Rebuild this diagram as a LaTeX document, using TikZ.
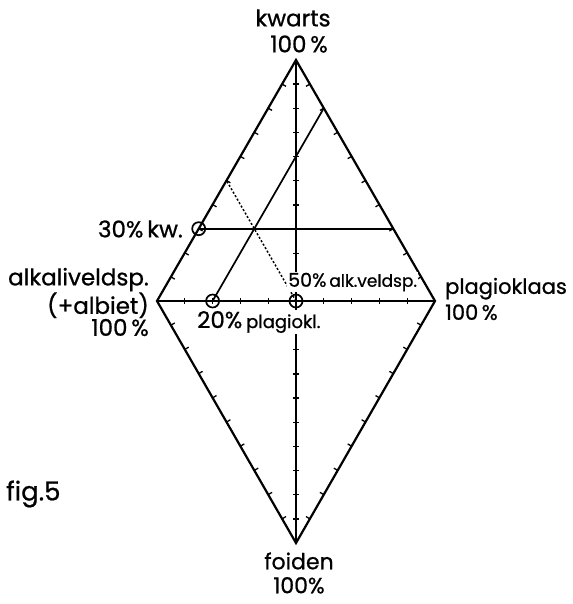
\documentclass[tikz,border=0pt]{standalone}
\usepackage{fontspec}
\setmainfont{Poppins}[FakeBold=0.8]
\usetikzlibrary{calc}

\begin{document}
\begin{tikzpicture}[
  x=1pt, y=-1pt,
  edge/.style={line width=2.2pt, line join=miter},
  axis/.style={line width=2pt},
  tick/.style={line width=1.3pt},
  aux/.style={line width=1.7pt},
  auxdot/.style={line width=1.5pt, dash pattern=on 2pt off 2pt},
  ring/.style={circle, draw, line width=1.7pt, minimum size=13pt, inner sep=0pt},
  lbl/.style={font=\fontsize{23}{26}\selectfont, inner sep=1pt},
  smalllbl/.style={font=\fontsize{17}{20}\selectfont, inner sep=1pt, fill=white},
]
\useasboundingbox (0,0) rectangle (572,604);

% --- corners of the double triangle ---
\coordinate (Q) at (296,60);   % kwarts
\coordinate (A) at (157,301);  % alkaliveldspaat
\coordinate (P) at (435,301);  % plagioklaas
\coordinate (F) at (296,543);  % foiden
\coordinate (O) at (296,301);

% --- construction points ---
\coordinate (k30) at ($(A)!0.3!(Q)$);
\coordinate (k30r) at ($(P)!0.3!(Q)$);
\coordinate (p20) at ($(A)!0.2!(P)$);
\coordinate (p20top) at ($(Q)!0.2!(P)$);
\coordinate (a50top) at ($(Q)!0.5!(A)$);

% outline and axes
\draw[edge] (Q) -- (A) -- (F) -- (P) -- cycle;
\draw[axis] (Q) -- (F);
\draw[axis] (A) -- (P);

% scale ticks, 10 % apart
\foreach \a/\b in {Q/A, A/F, F/P, P/Q} {
  \foreach \i in {1,...,9}
    \draw[tick] ($(\a)!\i/10!(\b)$) -- ($(\a)!\i/10!(\b)!4.5pt!90:(\b)$);
}
\foreach \i in {1,...,19}
  \draw[tick] ($(Q)!\i/20!(F)!3pt!90:(F)$) -- ($(Q)!\i/20!(F)!3pt!-90:(F)$);
\foreach \i in {1,...,9}
  \draw[tick] ($(A)!\i/10!(P)!3pt!90:(P)$) -- ($(A)!\i/10!(P)!3pt!-90:(P)$);

% example: 30 % kw., 20 % plagiokl., 50 % alk.veldsp.
\draw[aux] (k30) -- (k30r);
\draw[aux] (p20) -- (p20top);
\draw[auxdot] (O) -- (a50top);

\node[ring] (m30) at (k30) {};
\node[ring] (m20) at (p20) {};
\node[ring] (m50) at (O) {};
\draw[tick] (m50.north) -- (m50.south);

% --- labels ---
\node[lbl, align=center] (lq) at (293,31) {kwarts\\\hspace*{12pt}100\,\%};
\node[lbl, font=\fontsize{23}{22}\selectfont, align=right, anchor=east] (la) at (150,302) {alkaliveldsp.\\(+albiet)\\100\,\%};
\node[lbl, font=\fontsize{21}{26}\selectfont, align=left, anchor=west] (lp) at (444,299) {plagioklaas\\100\,\%};
\node[lbl, font=\fontsize{22}{24}\selectfont, align=center] (lf) at (299,573) {foiden\\100\%};
\node[lbl, font=\fontsize{26}{26}\selectfont, anchor=west] (lfig) at (5,494) {fig.5};
\node[lbl, anchor=east] (l30) at (184,229) {30\%\,kw.};
\node[lbl, fill=white, anchor=west] (l20) at (196,322) {20\%\,{\fontsize{18}{20}\selectfont plagiokl.}};
\node[smalllbl, anchor=west] (l50) at (287,282) {{\fontsize{19}{20}\selectfont 50\%}\,alk.veldsp.};

\end{tikzpicture}
\end{document}
